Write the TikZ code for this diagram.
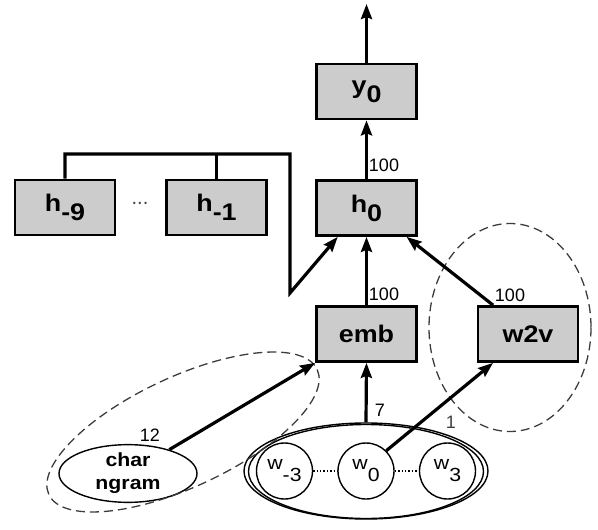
\documentclass[tikz,border=0pt]{standalone}
\usepackage{fontspec}
\setmainfont{Liberation Sans}
\newfontfamily\widefont[FakeStretch=1.12]{Liberation Sans}
\usetikzlibrary{arrows.meta,calc,shapes.geometric}
\definecolor{boxgray}{RGB}{204,204,204}
\definecolor{dashgray}{RGB}{60,60,60}
\newcommand\lowsub[1]{\raisebox{-9pt}{#1}}
\newcommand\circsub[1]{\raisebox{-12pt}{#1}}
\begin{document}
\begin{tikzpicture}[x=1pt,y=-1pt,
  box/.style={draw, line width=2.7pt, fill=boxgray, minimum width=100pt, minimum height=55pt, inner sep=0pt, font=\widefont\fontsize{24}{26}\selectfont\bfseries},
  arr/.style={line width=3.2pt, -{Stealth[length=15pt,width=11pt,inset=2pt]}},
  thickline/.style={line width=3.5pt},
  wcirc/.style={circle, draw, line width=1.4pt, minimum size=56pt, inner sep=0pt, font=\widefont\fontsize{19}{21}\selectfont},
  thinell/.style={ellipse, draw, line width=1.4pt, inner sep=0pt},
  dsh/.style={draw=dashgray, line width=1.3pt, dash pattern=on 9pt off 5pt},
  num/.style={font=\fontsize{18}{20}\selectfont, inner sep=0pt}
]
\useasboundingbox (0,0) rectangle (598,530);

% boxes
\node[box] (y0) at (366.5,91.5) {y\lowsub{0}};
\node[box] (h0) at (366.5,208) {h\lowsub{0}};
\node[box] (h9) at (65,207.5) {h\lowsub{-9}};
\node[box] (h1) at (216.5,207.5) {h\lowsub{-1}};
\node[box] (emb) at (366.5,334) {emb};
\node[box] (w2v) at (528,334) {w2v};
\node[font=\fontsize{20}{22}\selectfont, text=darkgray, inner sep=0pt] (dots) at (140,203) {...};

% input words
\node[thinell, minimum width=244pt, minimum height=96pt] (seq) at (366,471) {};
\draw[line width=1.4pt] (366,471.5) ellipse [x radius=117.5, y radius=47];
\node[wcirc] (wm3) at (284.5,471) {w\circsub{-3}};
\node[wcirc] (w0) at (366,471) {w\circsub{0}};
\node[wcirc] (w3) at (447.5,471) {w\circsub{3}};
\draw[dotted, line width=1.4pt] (wm3) -- (w0);
\draw[dotted, line width=1.4pt] (w0) -- (w3);

% char ngram
\node[thinell, minimum width=138pt, minimum height=55pt, align=center, font=\widefont\fontsize{19}{23}\selectfont\bfseries] (cng) at (128,473.5) {char\\ngram};

% dashed groupings
\draw[dsh] (510,327.5) ellipse [x radius=81, y radius=104];
\draw[dsh, rotate around={25:(183,432)}] (183,432) ellipse [x radius=148, y radius=55];

% coordinates
\coordinate (out) at (366.5,4);
\coordinate (bar) at (0,154);
\coordinate (bend) at (290,293);

% connectors
\draw[arr] (y0.north) -- (out);
\draw[arr] (h0.north) -- (y0.south);
\draw[arr] (emb.north) -- (h0.south);
\draw[arr] ($(w2v.north west)!0.16!(w2v.north east)$) -- ($(h0.south west)!0.89!(h0.south east)$);
\draw[arr] (h9.north) |- (bend |- bar) -- (bend) -- ($(h0.south west)!0.22!(h0.south east)$);
\draw[thickline] (h1.north) -- (h1.north |- bar);
\draw[arr] (seq.north) -- (emb.south);
\draw[arr] (cng.30) -- (emb.south west);
\draw[arr] (w0.north east) -- ($(w2v.south west)!0.16!(w2v.south east)$);

% labels
\node[num] (l1) at (384,165) {100};
\node[num] (l2) at (384,294) {100};
\node[num] (l3) at (510,295) {100};
\node[num] (l4) at (380,410) {7};
\node[num, text=darkgray] (l5) at (451,422) {1};
\node[num] (l6) at (150,435) {12};
\end{tikzpicture}
\end{document}
